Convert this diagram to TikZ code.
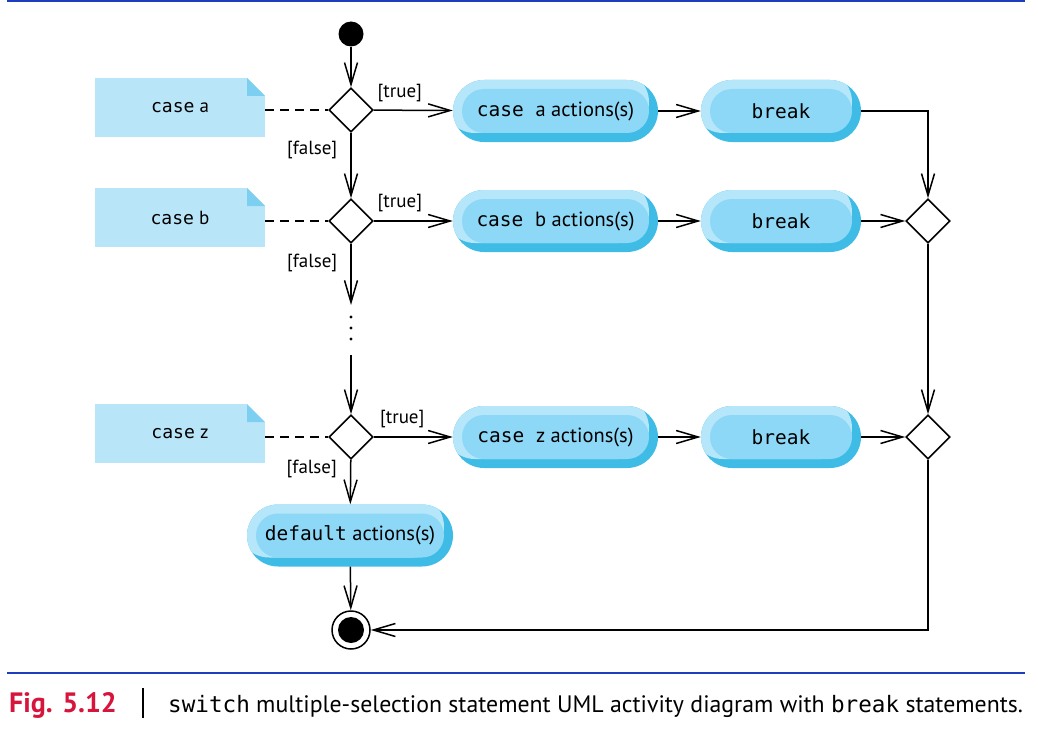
\documentclass[tikz,border=0pt]{standalone}
\usepackage{fontspec}
\setmainfont{PT Sans}
\setmonofont{DejaVu Sans Mono}[Scale=0.95]
\usetikzlibrary{arrows.meta,shapes.geometric,positioning}

\definecolor{noteblue}{RGB}{185,229,249}
\definecolor{folddark}{RGB}{125,207,241}
\definecolor{ringlight}{RGB}{182,230,249}
\definecolor{ringdark}{RGB}{63,188,230}
\definecolor{actfill}{RGB}{141,216,246}
\definecolor{ruleblue}{RGB}{30,60,190}
\definecolor{figred}{RGB}{215,20,60}

\newcommand{\cd}[1]{{\ttfamily #1}}

\tikzset{
  flow/.style={line width=1.5pt, -{Straight Barb[length=22pt,width=13pt]}},
  assoc/.style={line width=1.5pt, dash pattern=on 9pt off 6pt},
  guard/.style={inner sep=0pt, font=\fontsize{19}{22}\selectfont},
  decision/.style={diamond, draw, line width=1.6pt, fill=white, minimum width=44pt, minimum height=44pt, inner sep=0pt},
  startnode/.style={circle, fill=black, minimum size=25pt, inner sep=0pt},
  stopnode/.style={circle, draw, line width=1.5pt, minimum size=38pt, inner sep=0pt,
    path picture={\fill (path picture bounding box.center) circle (13pt);}},
  note/.style={rectangle, minimum width=170pt, minimum height=59pt, inner sep=0pt, fill=noteblue,
    font=\fontsize{19}{22}\selectfont,
    path picture={
      \fill[white] (path picture bounding box.north east) -- ([xshift=-18pt]path picture bounding box.north east)
        -- ([yshift=-18pt]path picture bounding box.north east) -- cycle;
      \fill[folddark] ([xshift=-18pt]path picture bounding box.north east) -- ([yshift=-18pt]path picture bounding box.north east)
        -- ([xshift=-18pt,yshift=-18pt]path picture bounding box.north east) -- cycle;
    }},
  action/.style={rectangle, rounded corners=31pt, minimum width=#1, minimum height=62pt, inner sep=0pt, fill=ringdark,
    font=\fontsize{20.5}{24}\selectfont,
    path picture={
      \fill[ringlight, rounded corners=31pt] ([xshift=-9pt,yshift=9pt]path picture bounding box.south west)
        rectangle ([xshift=-9pt,yshift=9pt]path picture bounding box.north east);
      \fill[actfill, rounded corners=22pt] ([xshift=9pt,yshift=9pt]path picture bounding box.south west)
        rectangle ([xshift=-9pt,yshift=-9pt]path picture bounding box.north east);
    }},
}

\begin{document}
\begin{tikzpicture}[x=1pt, y=-1pt]
\useasboundingbox (0,0) rectangle (1038,733);

% rules
\draw[ruleblue, line width=1.5pt] (7,1) -- (1025,1);
\draw[ruleblue, line width=1.5pt] (7,673) -- (1025,673);

% main column
\node[startnode] (start) at (351,34) {};
\node[decision] (da) at (351,110) {};
\node[decision] (db) at (351,221) {};
\node[decision] (dz) at (351,437) {};
\coordinate (dotstop) at (351,305);
\coordinate (dotsbot) at (351,355);
\node[action=206pt] (def) at (350,535.5) {\cd{default} actions(s)};
\node[stopnode] (stop) at (351,630) {};

% notes
\node[note] (na) at (180,107.5) {\cd{case} a};
\node[note] (nb) at (180,217.5) {\cd{case} b};
\node[note] (nz) at (180,433.5) {\cd{case} z};

% actions
\node[action=205pt] (aa) at (555.5,111) {\cd{case\ }a actions(s)};
\node[action=205pt] (ab) at (555.5,221) {\cd{case\ }b actions(s)};
\node[action=205pt] (az) at (555.5,437) {\cd{case\ }z actions(s)};
\node[action=160pt] (ba) at (781,111) {\cd{break}};
\node[action=160pt] (bb) at (781,221) {\cd{break}};
\node[action=160pt] (bz) at (781,437) {\cd{break}};

% merges
\node[decision] (ma) at (928,221) {};
\node[decision] (mz) at (928,437) {};

% connectors
\draw[flow] (start) -- (da);
\draw[flow] (da) -- node[guard, left=13pt, pos=.27] {[false]} (db);
\draw[flow] (db) -- node[guard, left=13pt, pos=.31] {[false]} (dotstop);
\foreach \y in {317,328,339} \fill (351,\y) circle (1.7pt);
\draw[flow] (dotsbot) -- (dz);
\draw[flow] (dz) -- node[guard, left=13pt, pos=.22] {[false]} (def);
\draw[flow] (def) -- (stop);

\draw[assoc] (na.east |- da) -- (da.west);
\draw[assoc] (nb.east |- db) -- (db.west);
\draw[assoc] (nz.east |- dz) -- (dz.west);

\draw[flow] (da) -- node[guard, above=8pt, pos=.33] {[true]} (aa);
\draw[flow] (db) -- node[guard, above=8pt, pos=.33] {[true]} (ab);
\draw[flow] (dz) -- node[guard, above=8pt, pos=.36] {[true]} (az);
\draw[flow] (aa) -- (ba);
\draw[flow] (ab) -- (bb);
\draw[flow] (az) -- (bz);

\draw[flow] (ba) -| (ma);
\draw[flow] (bb) -- (ma);
\draw[flow] (ma) -- (mz);
\draw[flow] (bz) -- (mz);
\draw[flow] (mz) |- (stop);

% caption
\node[anchor=base west, inner sep=0pt, text=figred, font=\fontsize{28}{32}\selectfont\bfseries] (fig) at (9,712) {Fig. 5.12};
\draw[line width=1.2pt] (143,688) -- (143,718);
\node[anchor=base west, inner sep=0pt, font=\fontsize{23.8}{28}\selectfont] (cap) at (168,712)
  {\cd{switch} multiple-selection statement UML activity diagram with \cd{break} statements.};
\end{tikzpicture}
\end{document}
